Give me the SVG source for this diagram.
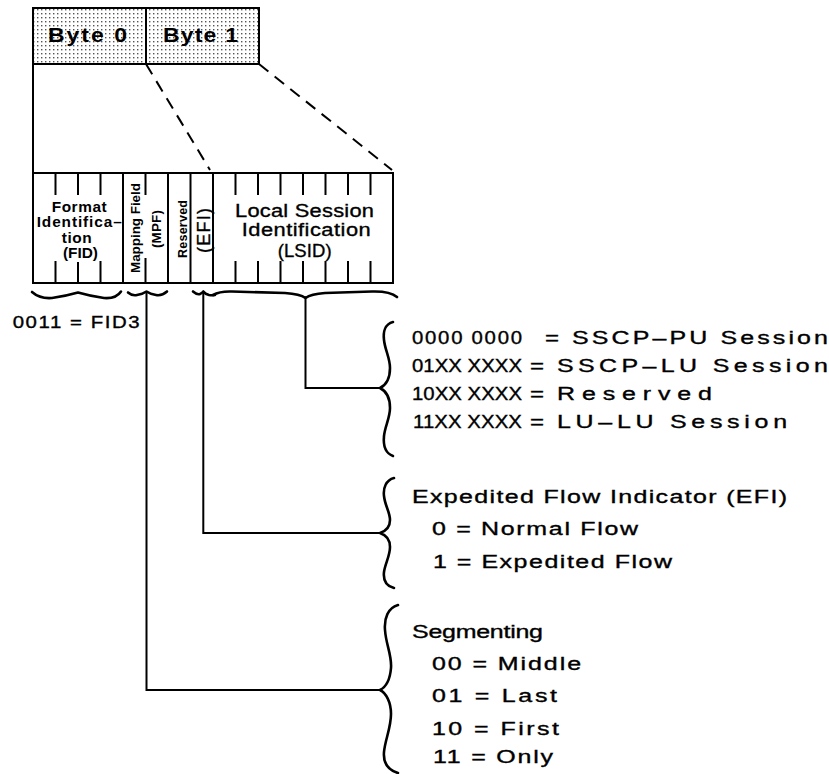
<svg xmlns="http://www.w3.org/2000/svg" width="829" height="774" viewBox="0 0 829 774">
<style>
text{font-family:"Liberation Sans",Arial,sans-serif;fill:#000}
.ln{stroke:#000;stroke-width:2;fill:none}
.box{stroke:#000;stroke-width:2;fill:url(#dots)}
.br{stroke:#000;stroke-width:2.6;fill:none;stroke-linecap:round;stroke-linejoin:round}
.dash{stroke:#000;stroke-width:2;fill:none;stroke-dasharray:12 8}
.byte{font-size:20px;font-weight:bold}
.big{font-size:18.5px;stroke:#000;stroke-width:0.35}
.lbl{font-size:14px;font-weight:bold}
.rot{font-size:13.5px;font-weight:bold}
.leg{font-size:18.5px;stroke:#000;stroke-width:0.35}
</style>
<defs>
<pattern id="dots" width="4" height="4" patternUnits="userSpaceOnUse">
<rect width="4" height="4" fill="#fff"/>
<rect x="1" y="1" width="1.4" height="1.4" fill="#555"/>
</pattern>
</defs>
<rect width="829" height="774" fill="#fff"/>

<g id="byte0">
<rect x="33" y="8" width="113" height="56" class="box"/>
<text class="byte" transform="translate(48,42) scale(1.15,1)" textLength="68.7">Byte 0</text>
</g>
<g id="byte1">
<rect x="146" y="8" width="113" height="56" class="box"/>
<text class="byte" transform="translate(163,42) scale(1.15,1)" textLength="65.2">Byte 1</text>
</g>

<g id="frame">
<line x1="33" y1="64" x2="33" y2="173" class="ln"/>
<line x1="32" y1="173" x2="394" y2="173" class="ln"/>
<line x1="32" y1="283" x2="394" y2="283" class="ln"/>
</g>

<g id="field-fid">
<line x1="33" y1="173" x2="33" y2="283" class="ln"/>
<path class="ln" d="M55.5,173V195M78,173V195M100.5,173V195M55.5,261V283M78,262V283M100.5,261V283"/>
<text class="lbl" transform="translate(51.7,211.7) scale(1.1,1)" textLength="50">Format</text>
<text class="lbl" transform="translate(36.7,226.7) scale(1.1,1)" textLength="77.3">Identifica–</text>
<text class="lbl" transform="translate(61.7,242.7) scale(1.1,1)" textLength="27.3">tion</text>
<text class="lbl" transform="translate(63,258) scale(1.1,1)" textLength="31.8">(FID)</text>
</g>
<g id="field-mpf">
<line x1="123" y1="173" x2="123" y2="283" class="ln"/>
<path class="ln" d="M145.5,173V195M145.5,258V283"/>
<text class="rot" transform="translate(139.5,273) rotate(-90)" textLength="90">Mapping Field</text>
<text class="rot" transform="translate(161,248) rotate(-90)" textLength="38">(MPF)</text>
</g>
<g id="field-reserved">
<line x1="168" y1="173" x2="168" y2="283" class="ln"/>
<text class="rot" style="font-size:12.5px" transform="translate(186.5,258) rotate(-90)" textLength="58">Reserved</text>
</g>
<g id="field-efi">
<line x1="190.5" y1="173" x2="190.5" y2="283" class="ln"/>
<text class="big" style="font-size:18px" transform="translate(209.5,253) rotate(-90)" textLength="45">(EFI)</text>
</g>
<g id="field-lsid">
<line x1="213" y1="173" x2="213" y2="283" class="ln"/>
<line x1="393" y1="173" x2="393" y2="283" class="ln"/>
<path class="ln" d="M235.5,173V195M258,173V195M280.5,173V195M303,173V195M325.5,173V195M348,173V195M370.5,173V195M235.5,261V283M258,261V283M280.5,261V283M303,261V283M325.5,261V283M348,261V283M370.5,261V283"/>
<text class="big" transform="translate(235,216.7) scale(1.18,1)" textLength="117.8">Local Session</text>
<text class="big" transform="translate(241.7,236) scale(1.18,1)" textLength="109.3">Identification</text>
<text class="big" x="277.7" y="257" textLength="54">(LSID)</text>
</g>

<g id="braces">
<path class="br" d="M32,292 Q40,299 52,298 Q66,296 78,292.5 Q90,296 104,298 Q116,299 121,291.5"/>
<path class="br" d="M128,292.5 Q132,296 137,295 Q143,294 146.5,291.5 Q150,294 156,295 Q162,296 167,291.5"/>
<path class="br" d="M193,291.5 Q197,295 200,294 Q202,293 203.3,291.5 Q205,294 209,295 Q212,295.5 215,295"/>
<path class="br" d="M213,295 Q220,291 232,291.5 L285,293 Q300,294 305.5,298 Q311,294 325,293 L372,291.5 Q390,291 397,297"/>
<path class="br" d="M393,322 C385,324 383,332 384,340 C385,350 390,358 390,368 C390,378 386,385 380,388 C386,391 390,398 390,408 C390,418 385,426 384,436 C383,446 385,453 393,456"/>
<path class="br" d="M394,478 C386,480 383,488 384,496 C385,506 390,512 390,520 C390,527 386,531 380,533 C386,535 390,540 390,547 C390,556 385,564 384,572 C383,581 386,586 394,588"/>
<path class="br" d="M398,605 C388,608 384,618 385,630 C386,645 392,655 391,668 C390,680 386,687 380,690 C386,693 391,702 391,714 C391,728 385,740 384,752 C383,764 388,770 398,773"/>
</g>

<g id="connectors">
<line x1="146" y1="64" x2="210" y2="170" class="dash"/>
<line x1="259" y1="64" x2="392" y2="170" class="dash"/>
<polyline class="ln" points="146.5,292 146.5,690 380,690"/>
<polyline class="ln" points="203.3,292 203.3,533 380,533"/>
<polyline class="ln" points="305.5,298 305.5,388 380,388"/>
</g>

<g id="fid-value">
<text class="leg" style="font-size:17px" transform="translate(12.7,328.3) scale(1.2,1)" textLength="105.8">0011 = FID3</text>
</g>

<g id="legend-lsid">
<text class="leg" transform="translate(412,344) scale(1.1,1)" textLength="100">0000 0000</text>
<text class="leg" transform="translate(545,344) scale(1.3,1)">=</text>
<text class="leg" transform="translate(572,344) scale(1.35,1)" textLength="189.6">SSCP–PU Session</text>
<text class="leg" transform="translate(412,371.7) scale(1.1,1)" textLength="100">01XX XXXX</text>
<text class="leg" transform="translate(530,371.7) scale(1.3,1)">=</text>
<text class="leg" transform="translate(557,371.7) scale(1.35,1)" textLength="200.7">SSCP–LU Session</text>
<text class="leg" transform="translate(412,400) scale(1.1,1)" textLength="100">10XX XXXX</text>
<text class="leg" transform="translate(530,400) scale(1.3,1)">=</text>
<text class="leg" transform="translate(557,400) scale(1.35,1)" textLength="114.8">Reserved</text>
<text class="leg" transform="translate(413,428.3) scale(1.1,1)" textLength="99">11XX XXXX</text>
<text class="leg" transform="translate(530,428.3) scale(1.3,1)">=</text>
<text class="leg" transform="translate(557,428.3) scale(1.35,1)" textLength="170.4">LU–LU Session</text>
</g>

<g id="legend-efi">
<text class="leg" transform="translate(412,503) scale(1.35,1)" textLength="277.8">Expedited Flow Indicator (EFI)</text>
<text class="leg" transform="translate(432,535) scale(1.35,1)" textLength="152.6">0 = Normal Flow</text>
<text class="leg" transform="translate(433,568) scale(1.35,1)" textLength="177">1 = Expedited Flow</text>
</g>

<g id="legend-seg">
<text class="leg" transform="translate(412,638) scale(1.35,1)" textLength="97">Segmenting</text>
<text class="leg" transform="translate(432,670) scale(1.35,1)" textLength="110.4">00 = Middle</text>
<text class="leg" transform="translate(432,701.7) scale(1.35,1)" textLength="92.6">01 = Last</text>
<text class="leg" transform="translate(432,735) scale(1.35,1)" textLength="94">10 = First</text>
<text class="leg" transform="translate(433,762.7) scale(1.35,1)" textLength="88.9">11 = Only</text>
</g>
</svg>
